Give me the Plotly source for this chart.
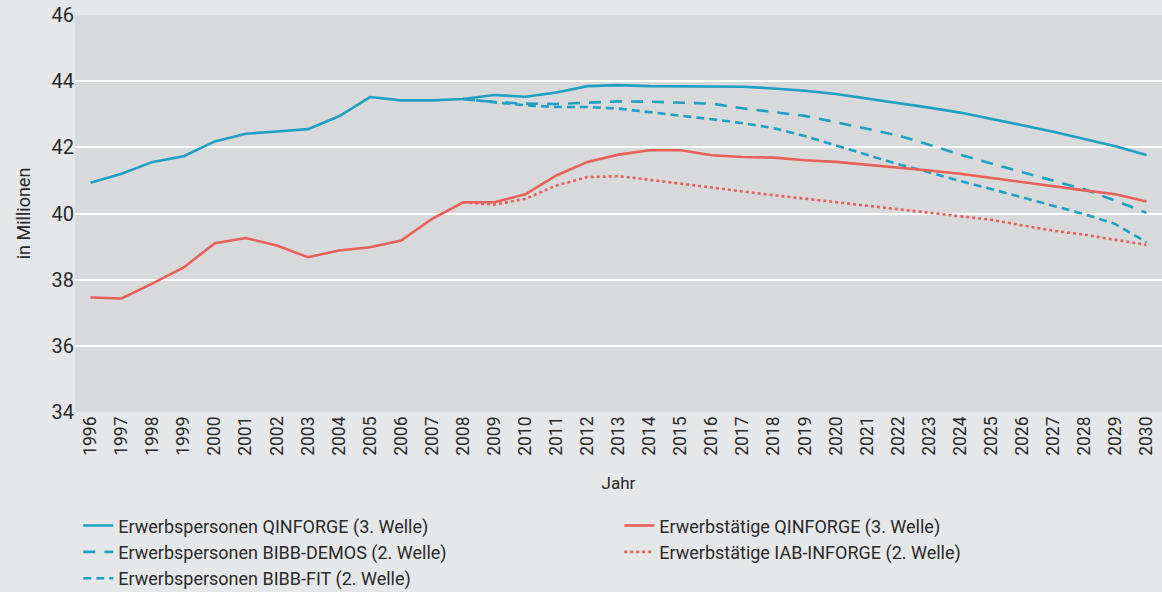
import plotly.graph_objects as go

years = list(range(1996, 2031))
years_proj = list(range(2008, 2031))

ep_qinforge = [40.93, 41.20, 41.56, 41.73, 42.18, 42.41, 42.48, 42.55, 42.94, 43.52,
               43.42, 43.42, 43.46, 43.58, 43.53, 43.66, 43.85, 43.88, 43.85, 43.85,
               43.85, 43.83, 43.78, 43.71, 43.61, 43.48, 43.33, 43.20, 43.05, 42.87,
               42.67, 42.47, 42.26, 42.03, 41.77]

ep_demos = [43.46, 43.37, 43.32, 43.31, 43.35, 43.39, 43.38, 43.35, 43.32, 43.18,
            43.07, 42.95, 42.76, 42.55, 42.36, 42.08, 41.78, 41.51, 41.25, 41.00,
            40.73, 40.39, 40.02]

ep_fit = [43.46, 43.37, 43.27, 43.22, 43.22, 43.17, 43.07, 42.97, 42.85, 42.73,
          42.58, 42.34, 42.06, 41.78, 41.49, 41.25, 40.98, 40.74, 40.49, 40.24,
          39.98, 39.68, 39.13]

et_qinforge = [37.46, 37.43, 37.89, 38.37, 39.10, 39.26, 39.03, 38.68, 38.88, 38.98,
               39.18, 39.84, 40.34, 40.34, 40.58, 41.15, 41.56, 41.78, 41.91, 41.91,
               41.76, 41.71, 41.69, 41.61, 41.56, 41.48, 41.38, 41.30, 41.20, 41.07,
               40.95, 40.82, 40.70, 40.58, 40.36]

et_iab = [40.34, 40.27, 40.44, 40.85, 41.10, 41.13, 41.02, 40.90, 40.80, 40.67,
          40.55, 40.45, 40.34, 40.24, 40.14, 40.02, 39.91, 39.81, 39.64, 39.48,
          39.36, 39.20, 39.05]

BLUE = "#1f9fc2"
RED = "#e8605a"
FONT = "Roboto, sans-serif"

fig = go.Figure()
fig.add_trace(go.Scatter(x=years, y=ep_qinforge, mode="lines", name="Erwerbspersonen QINFORGE (3. Welle)",
                         line=dict(color=BLUE, width=2.6), legendrank=1))
fig.add_trace(go.Scatter(x=years_proj, y=ep_demos, mode="lines", name="Erwerbspersonen BIBB-DEMOS (2. Welle)",
                         line=dict(color=BLUE, width=2.6, dash="12px,9px"), legendrank=3))
fig.add_trace(go.Scatter(x=years_proj, y=ep_fit, mode="lines", name="Erwerbspersonen BIBB-FIT (2. Welle)",
                         line=dict(color=BLUE, width=2.6, dash="8px,5px"), legendrank=5))
fig.add_trace(go.Scatter(x=years, y=et_qinforge, mode="lines", name="Erwerbstätige QINFORGE (3. Welle)",
                         line=dict(color=RED, width=2.6), legendrank=2))
fig.add_trace(go.Scatter(x=years_proj, y=et_iab, mode="lines", name="Erwerbstätige IAB-INFORGE (2. Welle)",
                         line=dict(color=RED, width=2.6, dash="dot"), legendrank=4))

fig.update_layout(
    width=1162, height=592,
    margin=dict(l=75, r=0, t=15, b=180, autoexpand=False),
    paper_bgcolor="#e6e7e8",
    plot_bgcolor="#d8d9da",
    font=dict(family=FONT, size=17, color="#2a2a2a"),
    showlegend=True,
    legend=dict(orientation="h", x=0.003, xanchor="left", y=-0.24, yanchor="top",
                entrywidth=496, entrywidthmode="pixels",
                font=dict(size=18), tracegroupgap=0, bgcolor="rgba(0,0,0,0)",
                traceorder="normal"),
)
fig.update_xaxes(range=[1995.5, 2030.5], tickmode="array", tickvals=years,
                 ticktext=[str(y) for y in years], tickangle=-90,
                 showgrid=False, zeroline=False, showline=False, ticks="",
                 tickfont=dict(size=17.5), title=dict(text="Jahr", font=dict(size=17), standoff=22))
fig.update_yaxes(range=[34, 46], tickvals=[34, 36, 38, 40, 42, 44, 46],
                 showgrid=True, gridcolor="#ffffff", gridwidth=2, zeroline=False,
                 showline=False, ticks="", tickfont=dict(size=20),
                 title=dict(text="in Millionen", font=dict(size=18), standoff=16))

fig.write_html("out.html", config={"displayModeBar": False},
               post_script="document.body.style.margin='0';")
